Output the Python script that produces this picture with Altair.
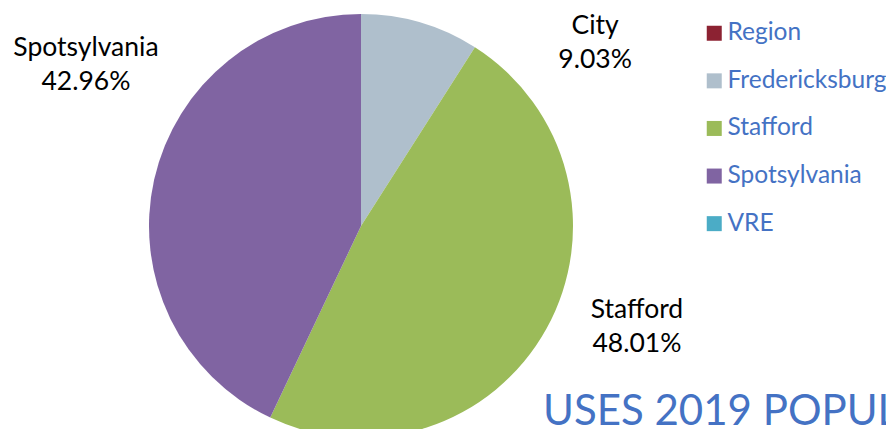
import altair as alt
import pandas as pd

categories = ["Region", "Fredericksburg", "Stafford", "Spotsylvania", "VRE"]
slice_labels = ["Region", "City", "Stafford", "Spotsylvania", "VRE"]
shares = [0.0, 9.03, 48.01, 42.96, 0.0]
colors = ["#8C2232", "#AFBFCC", "#9BBB59", "#8064A2", "#4BACC6"]
note_text = ["USES 2019 POPUL"]

df = pd.DataFrame({
    "cat": categories,
    "lab": slice_labels,
    "share": shares,
    "ord": list(range(len(categories))),
})

FONT = "Lato"
BLUE = "#4472C4"
CX, CY, R = 353, 218, 212

base = alt.Chart(df).encode(
    theta=alt.Theta("share:Q", stack=True,
                    scale=alt.Scale(range=[0, 6.283185307179586])),
    order=alt.Order("ord:Q", sort="ascending"),
    x=alt.value(CX),
    y=alt.value(CY),
)

pie = base.mark_arc(outerRadius=R).encode(
    color=alt.Color(
        "cat:N",
        scale=alt.Scale(domain=categories, range=colors),
        legend=alt.Legend(
            title=None, orient="none", legendX=694, legendY=13,
            symbolType="square", symbolSize=225, symbolStrokeWidth=0,
            labelFontSize=24.5, labelFont=FONT, labelColor=BLUE,
            labelOffset=1, rowPadding=22.6, padding=0, labelLimit=0,
        ),
    )
)

def label_layer(name, radius, offset):
    return base.transform_calculate(
        txt="datum.lab + '\\n' + format(datum.share, '.2f') + '%'"
    ).mark_text(
        radius=radius, thetaOffset=offset, font=FONT, fontSize=26.5,
        lineBreak="\n", lineHeight=34, align="center", baseline="middle",
        color="black",
    ).encode(
        detail="cat:N",
        text=alt.condition(alt.datum.cat == name, "txt:N", alt.value("")),
    )

labels = [
    label_layer("Fredericksburg", 308, 0.58),
    label_layer("Stafford", 288.5, -0.209),
    label_layer("Spotsylvania", 327.6, 0.353),
]

note = alt.Chart(pd.DataFrame({"t": note_text})).mark_text(
    font=FONT, fontSize=42, color=BLUE, align="left", baseline="alphabetic"
).encode(
    text="t:N",
    x=alt.value(535),
    y=alt.value(417),
)

chart = alt.layer(pie, *labels, note).properties(
    width=878, height=421, padding=0,
    autosize=alt.AutoSizeParams(type="none"),
).configure_view(stroke=None)

chart.save("out.html", embed_options={"renderer": "svg", "actions": False})
